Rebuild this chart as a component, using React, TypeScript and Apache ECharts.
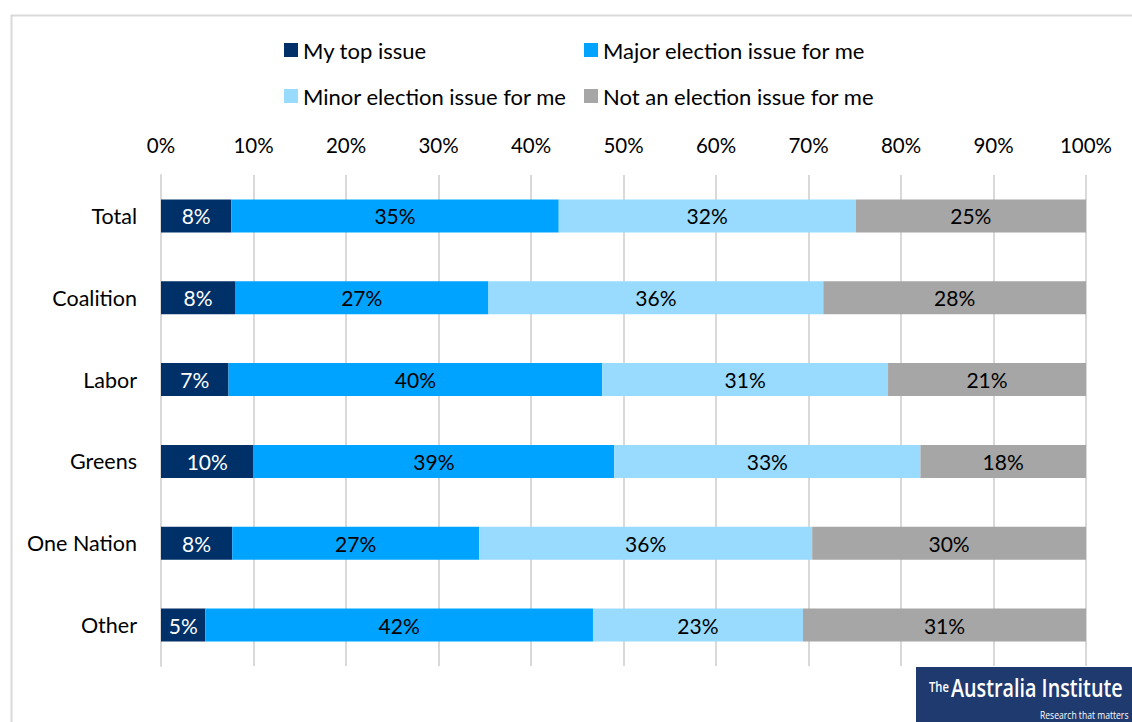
import React, { useEffect, useRef } from "react";
import * as echarts from "echarts";

const categories = ["Total", "Coalition", "Labor", "Greens", "One Nation", "Other"];
const seriesNames = [
  "My top issue",
  "Major election issue for me",
  "Minor election issue for me",
  "Not an election issue for me",
];
const topIssue = [7.6, 8.0, 7.3, 10.0, 7.7, 4.8];
const majorIssue = [35.4, 27.4, 40.4, 39.0, 26.7, 41.9];
const minorIssue = [32.1, 36.2, 30.9, 33.1, 36.0, 22.7];
const notIssue = [24.9, 28.4, 21.4, 17.9, 29.6, 30.6];
const colors = ["#003068", "#00A3FF", "#99DBFF", "#A6A6A6"];
const labelColors = ["#FFFFFF", "#000000", "#000000", "#000000"];

const FONT = "Lato, 'Open Sans', sans-serif";

export default function App() {
  const ref = useRef<HTMLDivElement>(null);
  useEffect(() => {
    if (!ref.current) return;
    const chart = echarts.init(ref.current, null, { renderer: "svg" });
    const dataSets = [topIssue, majorIssue, minorIssue, notIssue];
    const legendPos = [
      { left: 284, top: 39 },
      { left: 584, top: 39 },
      { left: 284, top: 85 },
      { left: 584, top: 85 },
    ];
    chart.setOption({
      animation: false,
      textStyle: { fontFamily: FONT },
      legend: seriesNames.map((n, i) => ({
        data: [n],
        left: legendPos[i].left,
        top: legendPos[i].top,
        icon: "rect",
        itemWidth: 14,
        itemHeight: 14,
        itemGap: 0,
        padding: 0,
        textStyle: { fontSize: 22, color: "#000", fontFamily: FONT },
        selectedMode: false,
      })),
      grid: { left: 161, right: 46, top: 175, bottom: 56 },
      xAxis: {
        type: "value",
        position: "top",
        min: 0,
        max: 100,
        interval: 10,
        axisLabel: {
          formatter: "{value}%",
          fontSize: 20.5,
          color: "#000",
          margin: 20,
          fontFamily: FONT,
        },
        axisLine: { show: false },
        axisTick: { show: false },
        splitLine: { show: true, lineStyle: { color: "#D9D9D9", width: 2 } },
      },
      yAxis: {
        type: "category",
        inverse: true,
        data: categories,
        axisLabel: { fontSize: 21.5, color: "#000", margin: 24, fontFamily: FONT },
        axisTick: { show: false },
        axisLine: { show: true, lineStyle: { color: "#D9D9D9", width: 2 } },
      },
      series: seriesNames.map((n, i) => ({
        name: n,
        type: "bar",
        stack: "total",
        barWidth: 33,
        itemStyle: { color: colors[i] },
        label: {
          show: true,
          position: "inside",
          fontSize: 21,
          color: labelColors[i],
          fontFamily: FONT,
          formatter: (p: any) => `${Math.round(p.value)}%`,
        },
        data: dataSets[i],
      })),
      graphic: [
        {
          type: "rect",
          left: 9,
          top: 13,
          shape: { width: 1300, height: 900 },
          style: { fill: "none", stroke: "#D9D9D9", lineWidth: 2 },
          silent: true,
          z: -10,
        },
        {
          type: "rect",
          shape: { x: 916, y: 667, width: 220, height: 60 },
          style: { fill: "#1F3A6E" },
          z: 10,
        },
        {
          type: "text",
          x: 929,
          y: 679,
          scaleX: 0.8,
          style: {
            text: "The",
            fill: "#FFFFFF",
            fontSize: 14,
            fontFamily: "'Open Sans', sans-serif",
            fontWeight: 600,
            textVerticalAlign: "top",
          },
          z: 11,
        },
        {
          type: "text",
          x: 951,
          y: 700,
          scaleX: 0.76,
          style: {
            text: "Australia Institute",
            fill: "#FFFFFF",
            fontSize: 26,
            fontFamily: "'Open Sans', sans-serif",
            fontWeight: 600,
            textVerticalAlign: "bottom",
          },
          z: 11,
        },
        {
          type: "text",
          x: 1040,
          y: 720,
          scaleX: 0.78,
          style: {
            text: "Research that matters",
            fill: "#FFFFFF",
            fontSize: 11,
            fontFamily: "'Open Sans', sans-serif",
            textVerticalAlign: "bottom",
          },
          z: 11,
        },
      ],
    });
    return () => chart.dispose();
  }, []);
  return (
    <div
      ref={ref}
      style={{ position: "fixed", left: 0, top: 0, width: 1132, height: 722, background: "#fff" }}
    />
  );
}
